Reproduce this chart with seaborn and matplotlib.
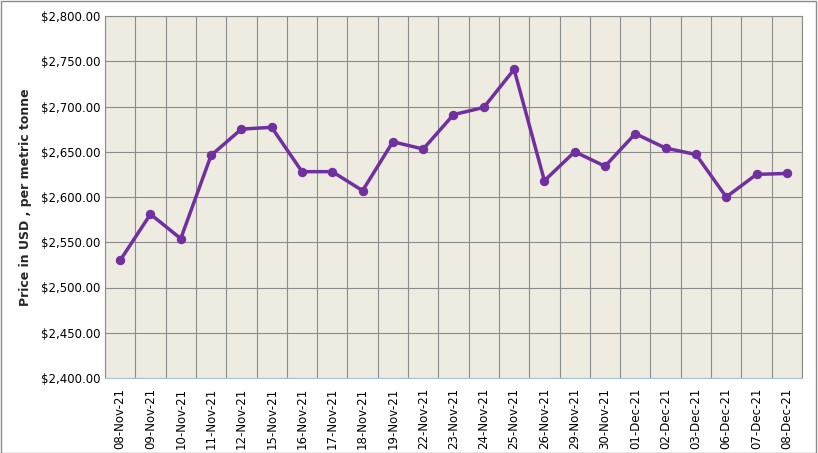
import matplotlib
matplotlib.use("Agg")
import matplotlib.pyplot as plt
import seaborn as sns
import pandas as pd
import numpy as np
from matplotlib.ticker import FuncFormatter, FixedLocator

dates = ["08-Nov-21","09-Nov-21","10-Nov-21","11-Nov-21","12-Nov-21","15-Nov-21","16-Nov-21",
         "17-Nov-21","18-Nov-21","19-Nov-21","22-Nov-21","23-Nov-21","24-Nov-21","25-Nov-21",
         "26-Nov-21","29-Nov-21","30-Nov-21","01-Dec-21","02-Dec-21","03-Dec-21","06-Dec-21",
         "07-Dec-21","08-Dec-21"]
prices = [2530, 2581, 2554, 2646, 2675, 2677, 2628, 2628, 2607, 2661, 2653, 2691, 2699, 2741,
          2618, 2650, 2634, 2670, 2654, 2647, 2600, 2625, 2626]

df = pd.DataFrame({"x": np.arange(len(dates)), "price": prices})

sns.set_style("white")
fig = plt.figure(figsize=(8.18, 4.53), dpi=100)
ax = fig.add_axes([105/818, 75/453, 697/818, 362/453])
ax.set_facecolor("#EEEBE0")
sns.lineplot(data=df, x="x", y="price", ax=ax, color="#7030A0", linewidth=2.5,
             marker="o", markersize=6, markeredgecolor="#7030A0", zorder=3)
ax.set_xlim(-0.5, len(dates) - 0.5)
ax.set_ylim(2400, 2800)
ax.set_yticks(np.arange(2400, 2801, 50))
ax.yaxis.set_major_formatter(FuncFormatter(lambda v, p: f"${v:,.2f}"))
ax.set_xticks(np.arange(len(dates)))
ax.set_xticklabels(dates, rotation=90, fontsize=8.5, color="black")
ax.xaxis.set_minor_locator(FixedLocator(np.arange(-0.5, len(dates), 1)))
ax.tick_params(axis="y", labelsize=8.5, labelcolor="black", length=0)
ax.tick_params(axis="x", which="major", length=0, pad=7)
ax.tick_params(axis="x", which="minor", length=0)
ax.grid(axis="y", color="#8C8C8C", linewidth=0.8)
ax.grid(axis="x", which="minor", color="#8C8C8C", linewidth=0.8)
ax.set_axisbelow(True)
for s in ax.spines.values():
    s.set_color("#8C8C8C")
ax.spines["bottom"].set_color("#A8C0E0")
ax.set_xlabel("")
ax.set_ylabel("Price in USD , per metric tonne", fontsize=9, fontweight="bold", labelpad=6)
fig.patches.append(plt.Rectangle((0.001, 0.001), 0.997, 0.997, transform=fig.transFigure,
                                 fill=False, edgecolor="#8C8C8C", linewidth=1))
fig.savefig("out.png", dpi=100)
